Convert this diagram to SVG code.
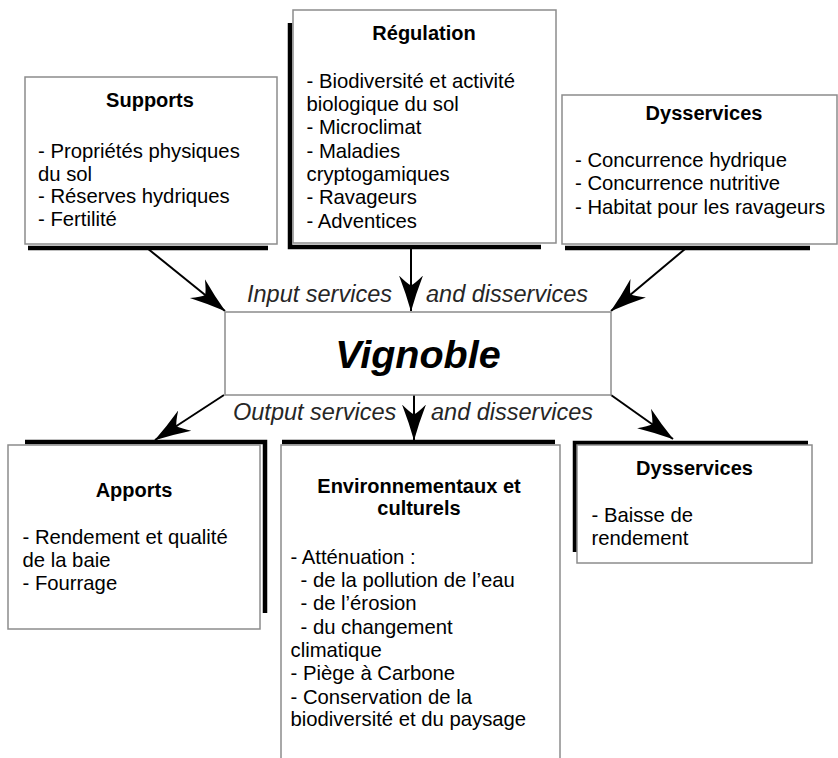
<svg xmlns="http://www.w3.org/2000/svg" width="838" height="758" viewBox="0 0 838 758">
<defs>
<style>
.box{fill:#fff;stroke:#8c8c8c;stroke-width:1.5}
.sh{fill:none;stroke:#000;stroke-width:4.5;stroke-linejoin:miter}
.t{font-family:"Liberation Sans",Arial,Helvetica,sans-serif;font-size:20.3px;fill:#000}
.h{font-family:"Liberation Sans",Arial,Helvetica,sans-serif;font-size:20px;font-weight:bold;fill:#000;text-anchor:middle}
.lab{font-family:"Liberation Sans",Arial,Helvetica,sans-serif;font-size:23.5px;font-style:italic;fill:#262626}
.big{font-family:"Liberation Sans",Arial,Helvetica,sans-serif;font-size:39.5px;font-weight:bold;font-style:italic;fill:#000;text-anchor:middle}
.c{fill:none;stroke:#000;stroke-width:2}
</style>
<marker id="ah" markerUnits="userSpaceOnUse" viewBox="0 0 36 26" markerWidth="36" markerHeight="26" refX="35.5" refY="13" orient="auto">
<path d="M36,13 Q18,8 0,1 Q8,9 10,13 Q8,17 0,25 Q18,18 36,13 Z" fill="#000"/>
</marker>
</defs>
<rect width="838" height="758" fill="#fff"/>

<g id="connectors">
<line class="c" x1="147" y1="248" x2="225" y2="311" marker-end="url(#ah)"/>
<line class="c" x1="411" y1="246" x2="411" y2="311" marker-end="url(#ah)"/>
<line class="c" x1="685" y1="249" x2="611" y2="311" marker-end="url(#ah)"/>
<line class="c" x1="224" y1="395" x2="155" y2="440" marker-end="url(#ah)"/>
<line class="c" x1="414" y1="395" x2="414" y2="440" marker-end="url(#ah)"/>
<line class="c" x1="611" y1="395" x2="673" y2="439" marker-end="url(#ah)"/>
</g>

<g id="supports">
<path class="sh" d="M28,248 L268,248"/>
<rect class="box" x="25" y="77" width="252" height="167"/>
<text class="h" x="150" y="107">Supports</text>
<text class="t" x="38" y="157.5">- Propriétés physiques</text>
<text class="t" x="38" y="180.5">du sol</text>
<text class="t" x="38" y="203">- Réserves hydriques</text>
<text class="t" x="38" y="226">- Fertilité</text>
</g>

<g id="regulation">
<path class="sh" d="M290,23 L290,247 L541,247"/>
<rect class="box" x="293" y="10" width="263" height="233"/>
<text class="h" x="424" y="39.5">Régulation</text>
<text class="t" x="306.5" y="87.5">- Biodiversité et activité</text>
<text class="t" x="306.5" y="110.5">biologique du sol</text>
<text class="t" x="306.5" y="134">- Microclimat</text>
<text class="t" x="306.5" y="157.5">- Maladies</text>
<text class="t" x="306.5" y="180.5">cryptogamiques</text>
<text class="t" x="306.5" y="204">- Ravageurs</text>
<text class="t" x="306.5" y="227.5">- Adventices</text>
</g>

<g id="dysservices-top">
<path class="sh" d="M565,248 L810,248"/>
<rect class="box" x="562" y="95" width="275" height="149"/>
<text class="h" x="704" y="120">Dysservices</text>
<text class="t" x="575" y="167">- Concurrence hydrique</text>
<text class="t" x="575" y="190">- Concurrence nutritive</text>
<text class="t" x="575" y="213.5">- Habitat pour les ravageurs</text>
</g>

<g id="labels">
<text class="lab" x="247" y="301.5">Input services</text>
<text class="lab" x="426" y="301.5">and disservices</text>
<text class="lab" x="233" y="419.5">Output services</text>
<text class="lab" x="431" y="419.5">and disservices</text>
</g>

<g id="vignoble">
<rect class="box" x="225" y="312" width="386" height="83"/>
<text class="big" x="418" y="368">Vignoble</text>
</g>

<g id="apports">
<path class="sh" d="M25,442 L265,442 L265,613"/>
<rect class="box" x="8" y="445" width="252" height="184"/>
<text class="h" x="134" y="496.5">Apports</text>
<text class="t" x="22.5" y="543.5">- Rendement et qualité</text>
<text class="t" x="22.5" y="566.5">de la baie</text>
<text class="t" x="22.5" y="590">- Fourrage</text>
</g>

<g id="environnementaux">
<path class="sh" d="M282,442 L555,442"/>
<rect class="box" x="281" y="445" width="279" height="330"/>
<text class="h" x="419" y="492.5">Environnementaux et</text>
<text class="h" x="419" y="515">culturels</text>
<text class="t" x="290.5" y="563.5">- Atténuation :</text>
<text class="t" x="300.5" y="587">- de la pollution de l’eau</text>
<text class="t" x="300.5" y="610">- de l’érosion</text>
<text class="t" x="300.5" y="633.5">- du changement</text>
<text class="t" x="290.5" y="657">climatique</text>
<text class="t" x="290.5" y="680">- Piège à Carbone</text>
<text class="t" x="290.5" y="703.5">- Conservation de la</text>
<text class="t" x="290.5" y="726">biodiversité et du paysage</text>
</g>

<g id="dysservices-bottom">
<path class="sh" d="M575,552 L575,443 L808,443"/>
<rect class="box" x="577" y="445" width="235" height="118"/>
<text class="h" x="694.5" y="475">Dysservices</text>
<text class="t" x="591.5" y="521.5">- Baisse de</text>
<text class="t" x="591.5" y="545">rendement</text>
</g>
</svg>
